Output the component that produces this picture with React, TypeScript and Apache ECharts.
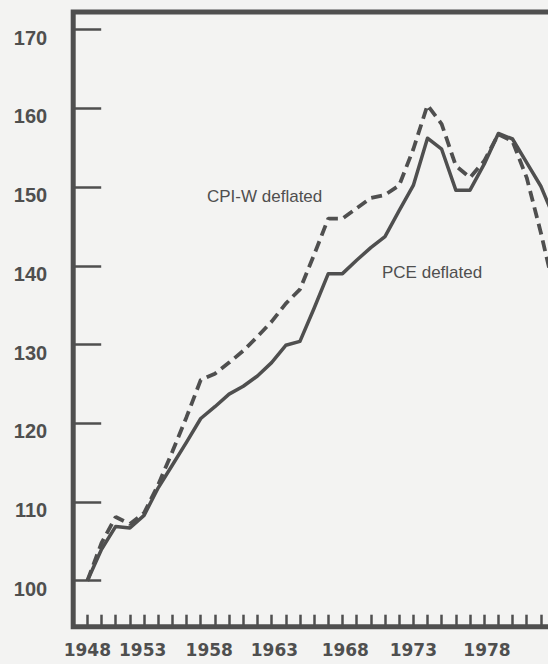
import React, { useEffect, useRef } from "react";
import * as echarts from "echarts";

// ---- data ----
const years = [
  1948, 1949, 1950, 1951, 1952, 1953, 1954, 1955, 1956, 1957, 1958, 1959,
  1960, 1961, 1962, 1963, 1964, 1965, 1966, 1967, 1968, 1969, 1970, 1971,
  1972, 1973, 1974, 1975, 1976, 1977, 1978, 1979, 1980, 1981,
];

// PCE deflated (solid)
const pceDeflated = [
  100.0, 104.0, 106.9, 106.7, 108.3, 111.8, 114.7, 117.6, 120.6, 122.1, 123.7, 124.7,
  126.0, 127.7, 129.9, 130.4, 134.6, 139.0, 139.0, 140.7, 142.3, 143.7, 147.0, 150.2,
  156.2, 154.8, 149.6, 149.6, 152.9, 156.8, 156.1, 153.1, 150.1, 145.8,
];

// CPI-W deflated (dashed)
const cpiwDeflated = [
  100.0, 104.8, 108.1, 107.2, 108.6, 112.2, 116.4, 120.8, 125.5, 126.3, 127.7, 129.2,
  131.0, 132.9, 135.2, 137.0, 141.4, 146.0, 146.0, 147.3, 148.6, 149.0, 150.2, 154.8,
  160.4, 158.0, 152.7, 151.2, 153.3, 156.7, 155.8, 151.2, 144.2, 136.5,
];

const yTickValues = [100, 110, 120, 130, 140, 150, 160, 170];
const xTickLabels = ["1948", "1953", "1958", "1963", "1968", "1973", "1978"];

const seriesNames = ["PCE deflated", "CPI-W deflated"];

// ---- layout ----
const INK = "#4f4f4f";
const BG = "#f3f3f2";
// where the reference prints its year labels (in axis units)
const xLabelAnchors = [1948, 1951.9, 1956.6, 1961.2, 1966.2, 1971.0, 1976.2];

export default function App() {
  const ref = useRef<HTMLDivElement>(null);

  useEffect(() => {
    if (!ref.current) return;
    const chart = echarts.init(ref.current, null, { renderer: "svg" });

    const toPairs = (vals: number[]) => years.map((y, i) => [y, vals[i]]);

    const option: any = {
      animation: false,
      backgroundColor: BG,
      grid: {
        left: 73.2,
        top: 12,
        width: 496,
        height: 614.7,
        outerBoundsMode: "none",
        containLabel: false,
        show: true,
        borderColor: INK,
        borderWidth: 5,
        backgroundColor: "transparent",
      },
      xAxis: {
        type: "value",
        min: 1947,
        max: 1982,
        axisLine: { show: false },
        splitLine: { show: false },
        axisTick: {
          show: true,
          inside: true,
          length: 12,
          customValues: years.slice(0, 33),
          lineStyle: { color: INK, width: 2.5 },
        },
        axisLabel: {
          show: true,
          customValues: xLabelAnchors,
          margin: 15,
          color: INK,
          fontFamily: "DejaVu Sans",
          fontWeight: "bold",
          fontSize: 17,
          formatter: (v: number) => {
            let best = 0;
            for (let i = 1; i < xLabelAnchors.length; i++) {
              if (Math.abs(xLabelAnchors[i] - v) < Math.abs(xLabelAnchors[best] - v)) best = i;
            }
            return xTickLabels[best];
          },
        },
      },
      yAxis: {
        type: "value",
        min: 94.16,
        max: 172.23,
        axisLine: { show: false },
        splitLine: { show: false },
        axisTick: {
          show: true,
          inside: true,
          length: 28,
          customValues: yTickValues,
          lineStyle: { color: INK, width: 2.5 },
        },
        axisLabel: {
          show: true,
          customValues: yTickValues,
          margin: 26,
          color: INK,
          fontFamily: "Liberation Sans",
          fontWeight: "bold",
          fontSize: 20,
          verticalAlign: "top",
          lineHeight: 16,
        },
      },
      series: [
        {
          name: seriesNames[0],
          type: "line",
          data: toPairs(pceDeflated),
          showSymbol: false,
          symbol: "none",
          clip: true,
          lineStyle: { color: INK, width: 3.5, join: "round" },
          z: 3,
        },
        {
          name: seriesNames[1],
          type: "line",
          data: toPairs(cpiwDeflated),
          showSymbol: false,
          symbol: "none",
          clip: true,
          lineStyle: { color: INK, width: 3.8, type: [11, 6] },
          z: 2,
        },
      ],
      graphic: [
        {
          type: "text",
          left: 207,
          top: 188,
          style: {
            text: "CPI-W deflated",
            fill: INK,
            font: "17px 'Liberation Sans'",
          },
        },
        {
          type: "text",
          left: 382,
          top: 264,
          style: {
            text: "PCE deflated",
            fill: INK,
            font: "17px 'Liberation Sans'",
          },
        },
      ],
    };

    chart.setOption(option);
    return () => chart.dispose();
  }, []);

  return (
    <div
      ref={ref}
      style={{ position: "fixed", left: 0, top: 0, width: 548, height: 664, background: BG }}
    />
  );
}
